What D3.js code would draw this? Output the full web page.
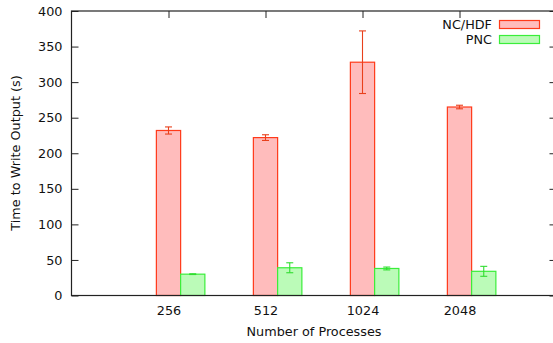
<!DOCTYPE html>
<html><head><meta charset="utf-8">
<script src="https://cdn.jsdelivr.net/npm/d3@7"></script>
<style>body{margin:0;background:#fff}svg{display:block;font-family:"DejaVu Sans",sans-serif}</style>
</head><body><svg id="c" width="553" height="343"></svg>
<script>
const categories = ["256","512","1024","2048"];
const seriesNames = ["NC/HDF","PNC"];
const ncValues = [232, 222, 328, 265];
const ncErrors = [5, 4, 44, 2.5];
const pncValues = [30, 39, 38, 34];
const pncErrors = [0.5, 7, 2, 7];
const yTicks = [0,50,100,150,200,250,300,350,400];

const svg = d3.select("#c");
const L = 71.5, R = 556.5, T = 11, B = 295.5;
const x = d3.scaleLinear().domain([0,5]).range([L,R]);
const y = d3.scaleLinear().domain([0,400]).range([B,T]);
const step = x(1)-x(0), bw = step*0.25;
const FS = "12.8px";

const styles = [
  {fill:"#ffbcbc", stroke:"#ff3a1a", err:"#e8401c"},
  {fill:"#bbfbb8", stroke:"#3aee3a", err:"#30dd30"}
];
const data = [
  categories.map((c,i)=>({c,i,v:ncValues[i],e:ncErrors[i],s:0})),
  categories.map((c,i)=>({c,i,v:pncValues[i],e:pncErrors[i],s:1}))
];

data.forEach((ser,si)=>{
  const g = svg.append("g");
  g.selectAll("rect").data(ser).enter().append("rect")
    .attr("x",d=>x(d.i+1)-bw/2+si*bw).attr("width",bw)
    .attr("y",d=>y(d.v)).attr("height",d=>y(0)-y(d.v))
    .attr("fill",styles[si].fill).attr("stroke",styles[si].stroke).attr("stroke-width",1.2);
  const eg = g.selectAll("g.err").data(ser).enter().append("g")
    .attr("stroke",styles[si].err).attr("stroke-width",1.1);
  const cx = d=>x(d.i+1)+si*bw;
  eg.append("line").attr("x1",cx).attr("x2",cx).attr("y1",d=>y(d.v+d.e)).attr("y2",d=>y(d.v-d.e));
  eg.append("line").attr("x1",d=>cx(d)-3.5).attr("x2",d=>cx(d)+3.5).attr("y1",d=>y(d.v+d.e)).attr("y2",d=>y(d.v+d.e));
  eg.append("line").attr("x1",d=>cx(d)-3.5).attr("x2",d=>cx(d)+3.5).attr("y1",d=>y(d.v-d.e)).attr("y2",d=>y(d.v-d.e));
});

svg.append("rect").attr("x",L).attr("y",T).attr("width",R-L).attr("height",B-T)
  .attr("fill","none").attr("stroke","#222").attr("stroke-width",1.2);

const ya = svg.append("g").attr("transform",`translate(${L},0)`)
  .call(d3.axisLeft(y).tickValues(yTicks).tickSize(-7).tickPadding(9));
ya.select(".domain").remove();
ya.selectAll("line").attr("stroke","#222");
ya.selectAll("text").attr("font-size",FS).attr("fill","#111").attr("font-family","DejaVu Sans");
const yr = svg.append("g").attr("transform",`translate(${R},0)`)
  .call(d3.axisRight(y).tickValues(yTicks).tickSize(-7).tickFormat(""));
yr.select(".domain").remove(); yr.selectAll("line").attr("stroke","#222");

const xa = svg.append("g").attr("transform",`translate(0,${B})`)
  .call(d3.axisBottom(x).tickValues([1,2,3,4]).tickFormat(d=>categories[d-1]).tickSize(0).tickPadding(10));
xa.select(".domain").remove();
xa.selectAll("text").attr("font-size",FS).attr("fill","#111").attr("font-family","DejaVu Sans");
const xt = svg.append("g").attr("transform",`translate(0,${T})`)
  .call(d3.axisBottom(x).tickValues([1,2,3,4]).tickSize(7).tickFormat(""));
xt.select(".domain").remove(); xt.selectAll("line").attr("stroke","#222");

svg.append("text").attr("x",314).attr("y",336).attr("text-anchor","middle")
  .attr("font-size",FS).attr("fill","#111").text("Number of Processes");
svg.append("text").attr("transform","translate(19.5,153) rotate(-90)").attr("text-anchor","middle")
  .attr("font-size",FS).attr("fill","#111").text("Time to Write Output (s)");

seriesNames.forEach((n,i)=>{
  const yy = 24.5 + i*15;
  svg.append("text").attr("x",492).attr("y",yy+4).attr("text-anchor","end")
    .attr("font-size",FS).attr("fill","#111").text(n);
  svg.append("rect").attr("x",499.5).attr("y",yy-4).attr("width",40).attr("height",8)
    .attr("fill",styles[i].fill).attr("stroke",styles[i].stroke).attr("stroke-width",1.2);
});
</script></body></html>
